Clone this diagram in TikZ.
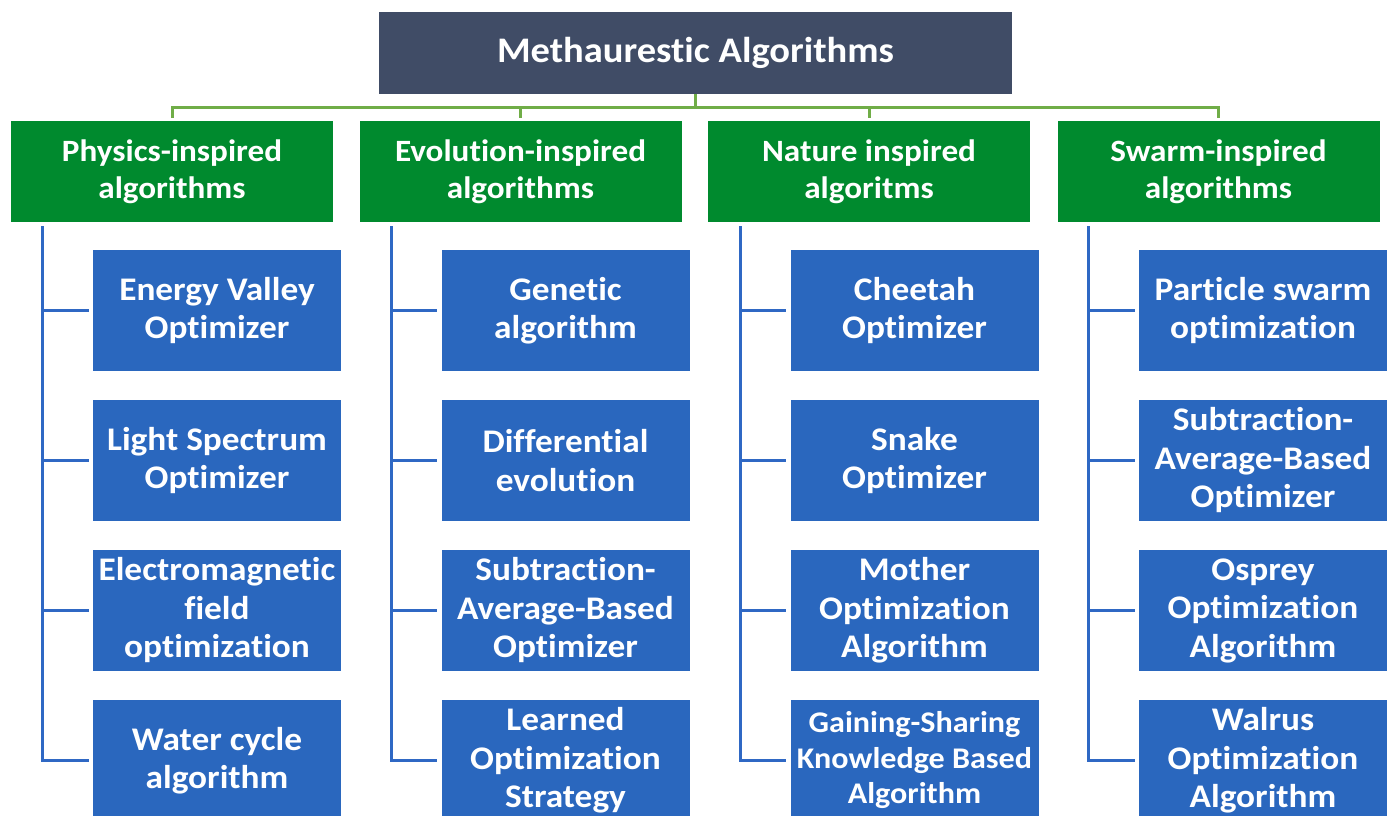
\documentclass[tikz,border=0pt]{standalone}
\usepackage{fontspec}
\setmainfont[FakeStretch=1.07,Ligatures=NoCommon]{Carlito}
\usetikzlibrary{shapes}
\definecolor{headcol}{RGB}{64,76,102}
\definecolor{grpcol}{RGB}{0,138,46}
\definecolor{algcol}{RGB}{42,103,190}
\definecolor{grlinecol}{RGB}{112,173,71}
\definecolor{bllinecol}{RGB}{47,104,196}
\tikzstyle{headbox}=[rectangle,fill=headcol,text=white,minimum width=633,minimum height=82,inner sep=0pt,font=\fontsize{36}{40}\selectfont\bfseries]
\tikzstyle{grpbox}=[rectangle,fill=grpcol,text=white,minimum width=322,minimum height=101,inner sep=0pt,align=center,font=\fontsize{31}{37}\selectfont\bfseries]
\tikzstyle{algbox}=[rectangle,fill=algcol,text=white,minimum width=248,minimum height=121,inner sep=0pt,align=center,font=\fontsize{33}{38.5}\selectfont\bfseries]
\tikzstyle{grline}=[draw=grlinecol,line width=3pt]
\tikzstyle{blline}=[draw=bllinecol,line width=3pt]

\begin{document}
\begin{tikzpicture}[x=1pt,y=-1pt]
\useasboundingbox (0,0) rectangle (1392,815);
\node[headbox] (meta) at (695.5,53) {Methaurestic Algorithms};
\node[grpbox] (phys) at (172,171.5) {Physics-inspired\\algorithms};
\node[grpbox] (evol) at (520.5,171.5) {Evolution-inspired\\algorithms};
\node[grpbox] (nat) at (869,171.5) {Nature inspired\\algoritms};
\node[grpbox] (swarm) at (1218.5,171.5) {Swarm-inspired\\algorithms};
% physics column
\node[algbox] (phys1) at (217,310.5) {Energy Valley\\Optimizer};
\node[algbox] (phys2) at (217,460.5) {Light Spectrum\\Optimizer};
\node[algbox] (phys3) at (217,610.5) {Electromagnetic\\field\\optimization};
\node[algbox] (phys4) at (217,760.5) {Water cycle\\algorithm};
% evolution column
\node[algbox] (evol1) at (565.5,310.5) {Genetic\\algorithm};
\node[algbox] (evol2) at (565.5,460.5) {Differential\\evolution};
\node[algbox] (evol3) at (565.5,610.5) {Subtraction-\\Average-Based\\Optimizer};
\node[algbox] (evol4) at (565.5,760.5) {Learned\\Optimization\\Strategy};
% nature column
\node[algbox] (nat1) at (914.5,310.5) {Cheetah\\Optimizer};
\node[algbox] (nat2) at (914.5,460.5) {Snake\\Optimizer};
\node[algbox] (nat3) at (914.5,610.5) {Mother\\Optimization\\Algorithm};
\node[algbox,font=\fontsize{30}{35.5}\selectfont\bfseries] (nat4) at (914.5,760.5) {Gaining-Sharing\\Knowledge Based\\Algorithm};
% swarm column
\node[algbox] (swarm1) at (1263,310.5) {Particle swarm\\optimization};
\node[algbox] (swarm2) at (1263,460.5) {Subtraction-\\Average-Based\\Optimizer};
\node[algbox] (swarm3) at (1263,610.5) {Osprey\\Optimization\\Algorithm};
\node[algbox] (swarm4) at (1263,760.5) {Walrus\\Optimization\\Algorithm};

% green bus
\coordinate (bus) at (695.5,107);
\draw[grline] (meta.south) -- (bus);
\draw[grline,shorten <=3pt,shorten >=3pt] (phys.north) |- (bus) -| (swarm.north);
\draw[grline,shorten <=3pt] (evol.north) -- (evol.north |- bus);
\draw[grline,shorten <=3pt] (nat.north) -- (nat.north |- bus);

% blue trees
\coordinate (pv) at (42,226);
\coordinate (ev) at (391,226);
\coordinate (nv) at (740,226);
\coordinate (sv) at (1088,226);
\draw[blline,shorten >=4pt] (pv) |- (phys4.west);
\draw[blline,shorten >=4pt] (pv |- phys1.west) -- (phys1.west);
\draw[blline,shorten >=4pt] (pv |- phys2.west) -- (phys2.west);
\draw[blline,shorten >=4pt] (pv |- phys3.west) -- (phys3.west);
\draw[blline,shorten >=4pt] (ev) |- (evol4.west);
\draw[blline,shorten >=4pt] (ev |- evol1.west) -- (evol1.west);
\draw[blline,shorten >=4pt] (ev |- evol2.west) -- (evol2.west);
\draw[blline,shorten >=4pt] (ev |- evol3.west) -- (evol3.west);
\draw[blline,shorten >=4pt] (nv) |- (nat4.west);
\draw[blline,shorten >=4pt] (nv |- nat1.west) -- (nat1.west);
\draw[blline,shorten >=4pt] (nv |- nat2.west) -- (nat2.west);
\draw[blline,shorten >=4pt] (nv |- nat3.west) -- (nat3.west);
\draw[blline,shorten >=4pt] (sv) |- (swarm4.west);
\draw[blline,shorten >=4pt] (sv |- swarm1.west) -- (swarm1.west);
\draw[blline,shorten >=4pt] (sv |- swarm2.west) -- (swarm2.west);
\draw[blline,shorten >=4pt] (sv |- swarm3.west) -- (swarm3.west);
\end{tikzpicture}
\end{document}
